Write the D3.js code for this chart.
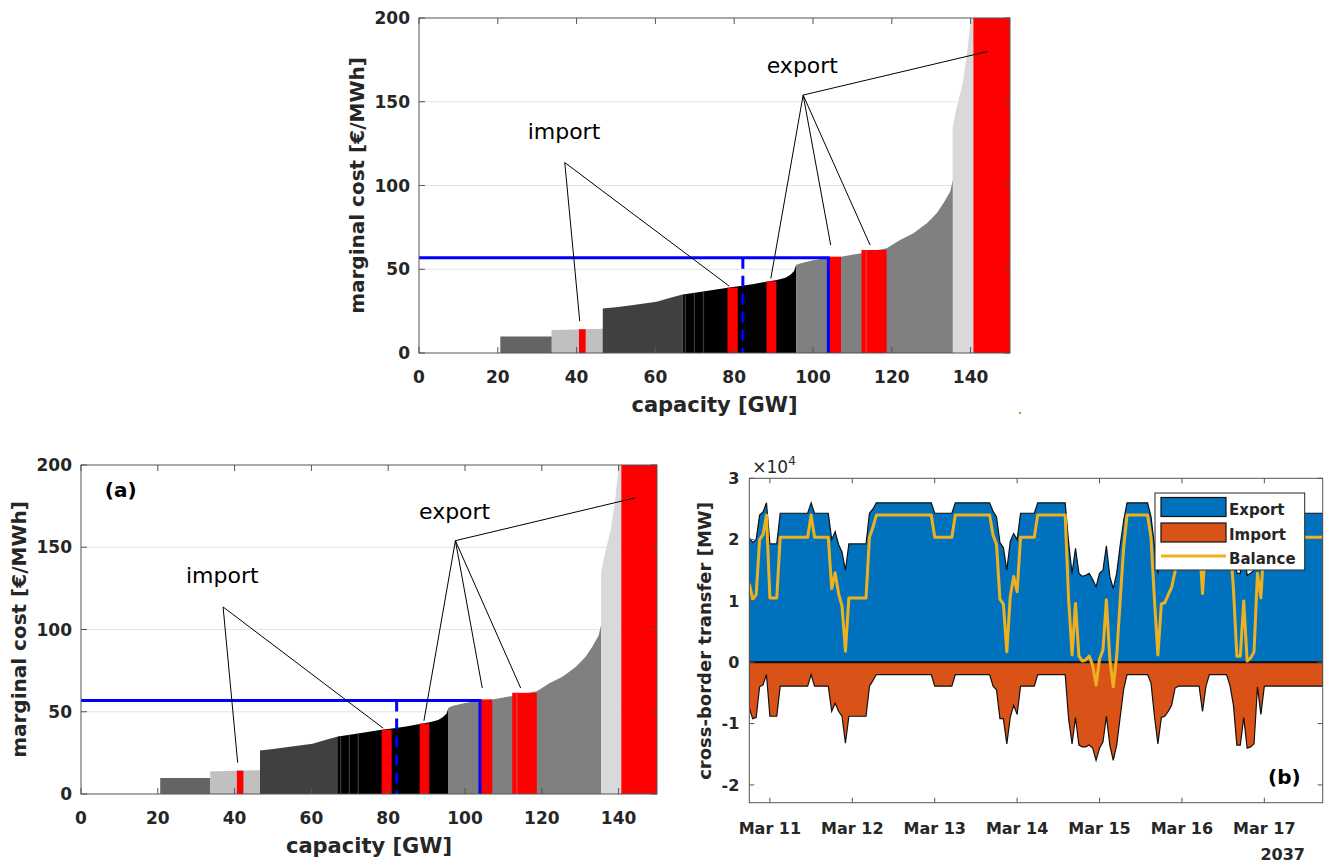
<!DOCTYPE html>
<html>
<head>
<meta charset="utf-8">
<script src="https://cdn.jsdelivr.net/npm/d3@7"></script>
<style>
  body { margin: 0; background: #fff; }
  svg text { font-family: "DejaVu Sans", sans-serif; }
</style>
</head>
<body>
<svg id="fig" width="1327" height="864"></svg>
<script>
// ---- merit order data (capacity GW, marginal cost EUR/MWh) ----
const supplyCap  = [0, 20.6, 20.6, 33.7, 33.7, 40, 46.6, 46.6, 50, 54.4, 60.3, 64.5, 66.9, 70, 75, 78.3, 81.5, 85, 88.2, 90.8,
                    93, 94.2, 95.2, 95.7, 96.7, 100, 103.9, 107.1, 110, 112.3, 118.7, 122.1, 125.5, 128.9, 131.4, 133.1, 134.8, 135.5, 135.5, 136.3,
                    138, 139.2, 140, 140.7, 150];
const supplyCost = [0, 0, 9.8, 9.8, 13.7, 14.1, 14.5, 26.5, 27.3, 28.7, 30.6, 33.5, 35, 36, 37.8, 39, 40, 41.2, 42.6, 43.6,
                    45, 46.6, 49, 52.5, 53.5, 55.3, 56.8, 57.5, 58.6, 59.6, 62.5, 67.5, 71.5, 77.4, 83.4, 89.4, 96.3, 103.3, 135, 145,
                    161, 181, 199, 200, 200];

// technology bands of the curve
const bandFrom = [20.6, 33.7, 46.6, 66.9, 95.7, 135.5];
const bandTo   = [33.7, 46.6, 66.9, 95.7, 135.5, 140.7];
const bandColor = ["#646464", "#c0c0c0", "#404040", "#000000", "#808080", "#d9d9d9"];

// cross-border blocks
const tradeKind = ["import", "import", "export", "export", "export", "export"];
const tradeFrom = [40.6, 78.3, 88.2, 103.9, 112.3, 140.7];
const tradeTo   = [42.3, 80.9, 90.7, 107.1, 118.7, 150];
const tradeCost = [14.2, 39, 42.8, 57.5, 61.5, 200];

// thin unit borders inside blocks
const unitEdgeCap  = [67.6, 69.9, 72.2, 113.5];
const unitEdgeCost = [35.1, 35.9, 36.6, 61.5];

const clearingPrice = 56.8;
const demandWithTrade = 103.9;
const demandNoTrade = 82.2;

const meritXTicks = [0, 20, 40, 60, 80, 100, 120, 140];
const meritYTicks = [0, 50, 100, 150, 200];

// annotation fans: label position, apex, targets
const importLabel = [36.8, 128];
const importApex = [37, 113.7];
const importTargets = [[40.8, 19], [78.7, 40]];
const exportLabel = [97.3, 167];
const exportApex = [97.5, 154];
const exportTargets = [[89.3, 44.5], [104.5, 64.4], [114.5, 64.4], [144.3, 180]];

// ---- cross-border transfer (MW), hours after 10 Mar 2037 18:00 ----
const flowHours = [0, 1, 2, 3, 4, 5, 6, 8, 9, 17, 18, 19, 23, 24, 25, 26, 27, 28, 29, 34,
                   35, 36, 37, 53, 54, 59, 60, 70, 71, 72, 73, 74, 75, 76, 77, 78, 79, 83, 84, 92,
                   93, 94, 95, 96, 97, 98, 99, 100, 101, 102, 103, 104, 105, 106, 107, 108, 109, 110, 116, 117,
                   118, 119, 120, 121, 122, 123, 124, 125, 131, 132, 133, 134, 139, 140, 141, 142, 143, 144, 145, 146,
                   147, 148, 149, 150, 167];
const exportMW = [20300, 19500, 20000, 24000, 24500, 26000, 19300, 19300, 24300, 24300, 26000, 24300, 24300, 20000, 21300, 19200, 18000, 15000, 19300, 19300,
                  24300, 25000, 26000, 26000, 24300, 24300, 26000, 26000, 24600, 23700, 19500, 18700, 15000, 19700, 21000, 20000, 24300, 24300, 26000, 26000,
                  19500, 14500, 18600, 14500, 14000, 14200, 14500, 13500, 12300, 14500, 15000, 19000, 14000, 12000, 14500, 19000, 23000, 26000, 26000, 23700,
                  19000, 14500, 18500, 18500, 19000, 19200, 19000, 24300, 24300, 19200, 24300, 26000, 26000, 24000, 19000, 14500, 14500, 19000, 14200, 14500,
                  15000, 18500, 19000, 24300, 24300];
const importMW = [-7500, -9200, -9000, -4000, -3700, -2000, -8800, -8800, -3900, -3900, -2000, -3900, -3900, -8000, -6700, -8000, -8800, -13200, -8800, -8800,
                  -3900, -3000, -2000, -2000, -3900, -3900, -2000, -2000, -3900, -4500, -9200, -9200, -13300, -9000, -7000, -8500, -3900, -3900, -2000, -2000,
                  -9200, -13300, -9000, -13500, -13800, -13800, -13500, -14000, -16000, -14000, -13000, -8800, -13500, -16000, -13500, -9000, -4500, -2000, -2000, -3400,
                  -8800, -13300, -9000, -8800, -8000, -7000, -4200, -3900, -3900, -8000, -3900, -2000, -2000, -3800, -7000, -13500, -13500, -9000, -14000, -13800,
                  -13300, -4000, -8500, -3900, -3900];
const balanceMW = [12800, 10300, 11000, 20000, 20800, 24000, 10500, 10500, 20400, 20400, 24000, 20400, 20400, 12000, 14600, 11200, 9200, 1800, 10500, 10500,
                   20400, 22000, 24000, 24000, 20400, 20400, 24000, 24000, 20700, 19200, 10300, 9500, 1700, 10700, 14000, 11500, 20400, 20400, 24000, 24000,
                   10300, 1200, 9600, 1000, 200, 400, 1000, -500, -3700, 500, 2000, 10200, 500, -4000, 1000, 10000, 18500, 24000, 24000, 20300,
                   10200, 1200, 9500, 9700, 11000, 12200, 14800, 20400, 20400, 11200, 20400, 24000, 24000, 20200, 12000, 1000, 1000, 10000, 200, 700,
                   1700, 14500, 10500, 20400, 20400];
const flowYTicks = [-20000, -10000, 0, 10000, 20000, 30000];
const seriesNames = ["Export", "Import", "Balance"];

const svg = d3.select("#fig");
const defs = svg.append("defs");
const INK = "#262626";

function meritPanel(box, key, tag) {
    const x = d3.scaleLinear().domain([0, 150]).range([box.left, box.right]);
    const y = d3.scaleLinear().domain([0, 200]).range([box.bottom, box.top]);
    const g = svg.append("g");

    g.selectAll("line.grid").data(meritYTicks.filter(v => v > 0 && v < 200)).join("line")
        .attr("x1", box.left).attr("x2", box.right)
        .attr("y1", d => y(d)).attr("y2", d => y(d))
        .attr("stroke", "#e4e4e4").attr("stroke-width", 1);

    // supply curve, one fill per technology band
    const curve = supplyCap.map((c, i) => [c, supplyCost[i]]);
    const area = d3.area().x(d => x(d[0])).y0(y(0)).y1(d => y(d[1]));
    bandFrom.forEach((from, i) => {
        const id = `band-${key}-${i}`;
        defs.append("clipPath").attr("id", id).append("rect")
            .attr("x", x(from)).attr("y", box.top)
            .attr("width", x(bandTo[i]) - x(from)).attr("height", box.bottom - box.top);
        g.append("path").attr("d", area(curve)).attr("fill", bandColor[i]).attr("clip-path", `url(#${id})`);
    });

    g.selectAll("line.unit").data(unitEdgeCap).join("line")
        .attr("x1", d => x(d)).attr("x2", d => x(d))
        .attr("y1", y(0)).attr("y2", (d, i) => y(unitEdgeCost[i]))
        .attr("stroke", (d, i) => i < 3 ? "#3c3c3c" : "#d24a4a").attr("stroke-width", 1.2);

    // import / export blocks
    g.selectAll("rect.trade").data(tradeFrom).join("rect")
        .attr("x", d => x(d)).attr("width", (d, i) => x(tradeTo[i]) - x(d))
        .attr("y", (d, i) => y(tradeCost[i])).attr("height", (d, i) => y(0) - y(tradeCost[i]))
        .attr("fill", "#ff0000");
    g.append("line").attr("x1", x(113.5)).attr("x2", x(113.5)).attr("y1", y(0)).attr("y2", y(61.5))
        .attr("stroke", "#d24a4a").attr("stroke-width", 1.2);

    // market clearing
    g.append("path")
        .attr("d", `M${x(0)},${y(clearingPrice)}H${x(demandWithTrade)}V${y(0)}`)
        .attr("fill", "none").attr("stroke", "#0000ff").attr("stroke-width", 3);
    g.append("line")
        .attr("x1", x(demandNoTrade)).attr("x2", x(demandNoTrade))
        .attr("y1", y(clearingPrice)).attr("y2", y(0))
        .attr("stroke", "#0000ff").attr("stroke-width", 3).attr("stroke-dasharray", "11,7");

    // annotations
    const fan = (apex, targets) => targets.forEach(t => g.append("line")
        .attr("x1", x(apex[0])).attr("y1", y(apex[1])).attr("x2", x(t[0])).attr("y2", y(t[1]))
        .attr("stroke", "#000").attr("stroke-width", 1));
    fan(importApex, importTargets);
    fan(exportApex, exportTargets);
    g.append("text").attr("x", x(importLabel[0])).attr("y", y(importLabel[1]))
        .attr("text-anchor", "middle").attr("font-size", 22).text("import");
    g.append("text").attr("x", x(exportLabel[0])).attr("y", y(exportLabel[1]))
        .attr("text-anchor", "middle").attr("font-size", 22).text("export");

    // axes box and ticks
    g.append("rect").attr("x", box.left).attr("y", box.top)
        .attr("width", box.right - box.left).attr("height", box.bottom - box.top)
        .attr("fill", "none").attr("stroke", "#555").attr("stroke-width", 1);
    const tk = 6;
    meritXTicks.forEach(v => {
        g.append("line").attr("x1", x(v)).attr("x2", x(v)).attr("y1", box.bottom).attr("y2", box.bottom - tk).attr("stroke", "#555");
        g.append("line").attr("x1", x(v)).attr("x2", x(v)).attr("y1", box.top).attr("y2", box.top + tk).attr("stroke", "#555");
    });
    meritYTicks.forEach(v => {
        g.append("line").attr("x1", box.left).attr("x2", box.left + tk).attr("y1", y(v)).attr("y2", y(v)).attr("stroke", "#555");
        g.append("line").attr("x1", box.right).attr("x2", box.right - tk).attr("y1", y(v)).attr("y2", y(v)).attr("stroke", "#555");
    });
    g.selectAll("text.xt").data(meritXTicks).join("text")
        .attr("x", d => x(d)).attr("y", box.bottom + 30)
        .attr("text-anchor", "middle").attr("font-size", 17).attr("font-weight", "bold").attr("fill", INK)
        .text(d => d);
    g.selectAll("text.yt").data(meritYTicks).join("text")
        .attr("x", box.left - 9).attr("y", d => y(d)).attr("dy", "0.36em")
        .attr("text-anchor", "end").attr("font-size", 17).attr("font-weight", "bold").attr("fill", INK)
        .text(d => d);
    g.append("text").attr("x", (box.left + box.right) / 2).attr("y", box.bottom + 59)
        .attr("text-anchor", "middle").attr("font-size", 21).attr("font-weight", "bold").attr("fill", INK)
        .text("capacity [GW]");
    g.append("text")
        .attr("transform", `translate(${box.left - 55},${(box.top + box.bottom) / 2}) rotate(-90)`)
        .attr("text-anchor", "middle").attr("font-size", 20).attr("font-weight", "bold").attr("fill", INK)
        .text("marginal cost [€/MWh]");
    if (tag) {
        g.append("text").attr("x", x(6.2)).attr("y", y(184.8)).attr("dy", "0.36em")
            .attr("font-size", 20).attr("font-weight", "bold").attr("fill", "#000").text(tag);
    }
}

meritPanel({ left: 419, right: 1010, top: 18, bottom: 353 }, "top", null);
meritPanel({ left: 81, right: 657, top: 465, bottom: 794 }, "a", "(a)");

// stray mark in the reference
svg.append("rect").attr("x", 1019).attr("y", 412).attr("width", 2).attr("height", 2).attr("fill", "#e8821e");

// ---- panel (b): cross-border transfer ----
(function flowPanel() {
    const box = { left: 749.3, right: 1322.7, top: 478.3, bottom: 802.7 };
    const tStart = Date.UTC(2037, 2, 10, 18);
    const at = h => new Date(tStart + h * 3600e3);
    const x = d3.scaleUtc().domain([at(0), at(167)]).range([box.left, box.right]);
    const y = d3.scaleLinear().domain([-22900, 30000]).range([box.bottom, box.top]);
    const g = svg.append("g");

    defs.append("clipPath").attr("id", "flowClip").append("rect")
        .attr("x", box.left).attr("y", box.top).attr("width", box.right - box.left).attr("height", box.bottom - box.top);
    const plot = g.append("g").attr("clip-path", "url(#flowClip)");

    const area = vals => d3.area().x((d, i) => x(at(flowHours[i]))).y0(y(0)).y1((d, i) => y(vals[i]))(vals);
    plot.append("path").attr("d", area(exportMW)).attr("fill", "#0072BD").attr("stroke", "#111").attr("stroke-width", 1.2);
    plot.append("path").attr("d", area(importMW)).attr("fill", "#D95319").attr("stroke", "#111").attr("stroke-width", 1.2);
    plot.append("line").attr("x1", box.left).attr("x2", box.right).attr("y1", y(0)).attr("y2", y(0))
        .attr("stroke", "#111").attr("stroke-width", 2);
    plot.append("path")
        .attr("d", d3.line().x((d, i) => x(at(flowHours[i]))).y(d => y(d))(balanceMW))
        .attr("fill", "none").attr("stroke", "#EDB120").attr("stroke-width", 3).attr("stroke-linejoin", "round");

    // axes
    g.append("rect").attr("x", box.left).attr("y", box.top)
        .attr("width", box.right - box.left).attr("height", box.bottom - box.top)
        .attr("fill", "none").attr("stroke", "#555").attr("stroke-width", 1);
    const days = d3.utcDay.range(at(6), at(168));
    const tk = 5;
    days.forEach(d => {
        g.append("line").attr("x1", x(d)).attr("x2", x(d)).attr("y1", box.bottom).attr("y2", box.bottom - tk).attr("stroke", "#555");
        g.append("line").attr("x1", x(d)).attr("x2", x(d)).attr("y1", box.top).attr("y2", box.top + tk).attr("stroke", "#555");
    });
    flowYTicks.forEach(v => {
        g.append("line").attr("x1", box.left).attr("x2", box.left + tk).attr("y1", y(v)).attr("y2", y(v)).attr("stroke", "#555");
        g.append("line").attr("x1", box.right).attr("x2", box.right - tk).attr("y1", y(v)).attr("y2", y(v)).attr("stroke", "#555");
    });
    const fmt = d3.utcFormat("%b %d");
    g.selectAll("text.xt").data(days).join("text")
        .attr("x", d => x(d)).attr("y", box.bottom + 31)
        .attr("text-anchor", "middle").attr("font-size", 16).attr("font-weight", "bold").attr("fill", INK)
        .text(d => fmt(d));
    g.append("text").attr("x", 1305).attr("y", 860).attr("text-anchor", "end")
        .attr("font-size", 16).attr("font-weight", "bold").attr("fill", INK).text("2037");
    g.selectAll("text.yt").data(flowYTicks).join("text")
        .attr("x", box.left - 10).attr("y", d => y(d)).attr("dy", "0.36em")
        .attr("text-anchor", "end").attr("font-size", 16).attr("font-weight", "bold").attr("fill", INK)
        .text(d => d / 1e4);
    const exp = g.append("text").attr("x", box.left + 3).attr("y", 473).attr("font-size", 17).attr("fill", INK);
    exp.append("tspan").text("×10");
    exp.append("tspan").attr("dy", -8).attr("font-size", 12).text("4");
    g.append("text")
        .attr("transform", `translate(${box.left - 38},${641}) rotate(-90)`)
        .attr("text-anchor", "middle").attr("font-size", 18).attr("font-weight", "bold").attr("fill", INK)
        .text("cross-border transfer [MW]");
    g.append("text").attr("x", 1268).attr("y", 784)
        .attr("font-size", 20).attr("font-weight", "bold").attr("fill", "#000").text("(b)");

    // legend
    const lg = g.append("g");
    lg.append("rect").attr("x", 1155).attr("y", 493).attr("width", 149.7).attr("height", 77)
        .attr("fill", "#fff").attr("stroke", INK).attr("stroke-width", 1);
    const swatchColor = ["#0072BD", "#D95319"];
    swatchColor.forEach((c, i) => lg.append("rect")
        .attr("x", 1161).attr("y", 497.5 + i * 25.5).attr("width", 65).attr("height", 19)
        .attr("fill", c).attr("stroke", "#111").attr("stroke-width", 1.2));
    lg.append("line").attr("x1", 1161).attr("x2", 1226).attr("y1", 556).attr("y2", 556)
        .attr("stroke", "#EDB120").attr("stroke-width", 3);
    lg.selectAll("text").data(seriesNames).join("text")
        .attr("x", 1229).attr("y", (d, i) => 515 + i * 24.5)
        .attr("font-size", 15).attr("font-weight", "bold").attr("fill", INK)
        .text(d => d);
})();
</script>
</body>
</html>
